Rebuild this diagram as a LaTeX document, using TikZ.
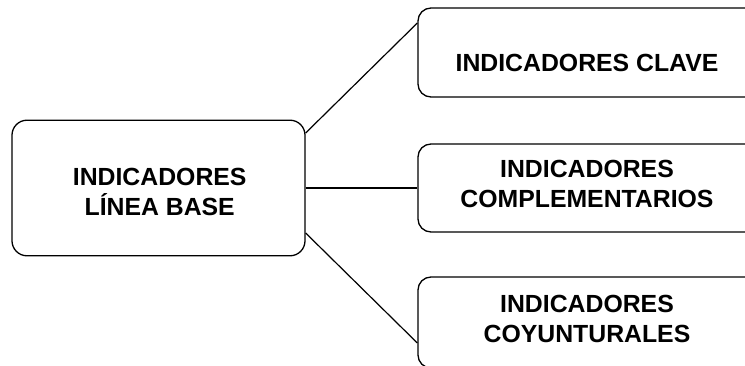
\documentclass[tikz,border=0pt]{standalone}
\usepackage{fontspec}
\setmainfont{Liberation Sans}
\begin{document}
\begin{tikzpicture}[x=1pt,y=-1pt,
  box/.style={draw, line width=1.3pt, rounded corners=13pt, inner sep=0pt},
  lbl/.style={font=\fontsize{24.8}{30}\selectfont\bfseries, align=center, inner sep=0pt},
  conn/.style={line width=1.2pt}]
\clip (0,0) rectangle (745,366);
% boxes
\node[box, rounded corners=15pt, minimum width=293pt, minimum height=135.6pt] (L) at (158.5,188) {};
\node[box, minimum width=360pt, minimum height=89pt] (K) at (598,52.5) {};
\node[box, minimum width=360pt, minimum height=88pt] (C) at (598,188) {};
\node[box, minimum width=360pt, minimum height=91pt] (Y) at (598,322.5) {};
% labels
\node[lbl] (Lt) at (159.7,191.5) {INDICADORES\\LÍNEA BASE};
\node[lbl] (Kt) at (587,62.5) {INDICADORES CLAVE};
\node[lbl] (Ct) at (587,183.5) {INDICADORES\\COMPLEMENTARIOS};
\node[lbl] (Yt) at (587,319) {INDICADORES\\COYUNTURALES};
% connectors
\draw[conn] ([yshift=55pt]L.east) -- ([yshift=29.5pt]K.west);
\draw[conn] (L.east) -- (C.west);
\draw[conn] ([yshift=-45pt]L.east) -- ([yshift=-20.5pt]Y.west);
\end{tikzpicture}
\end{document}
